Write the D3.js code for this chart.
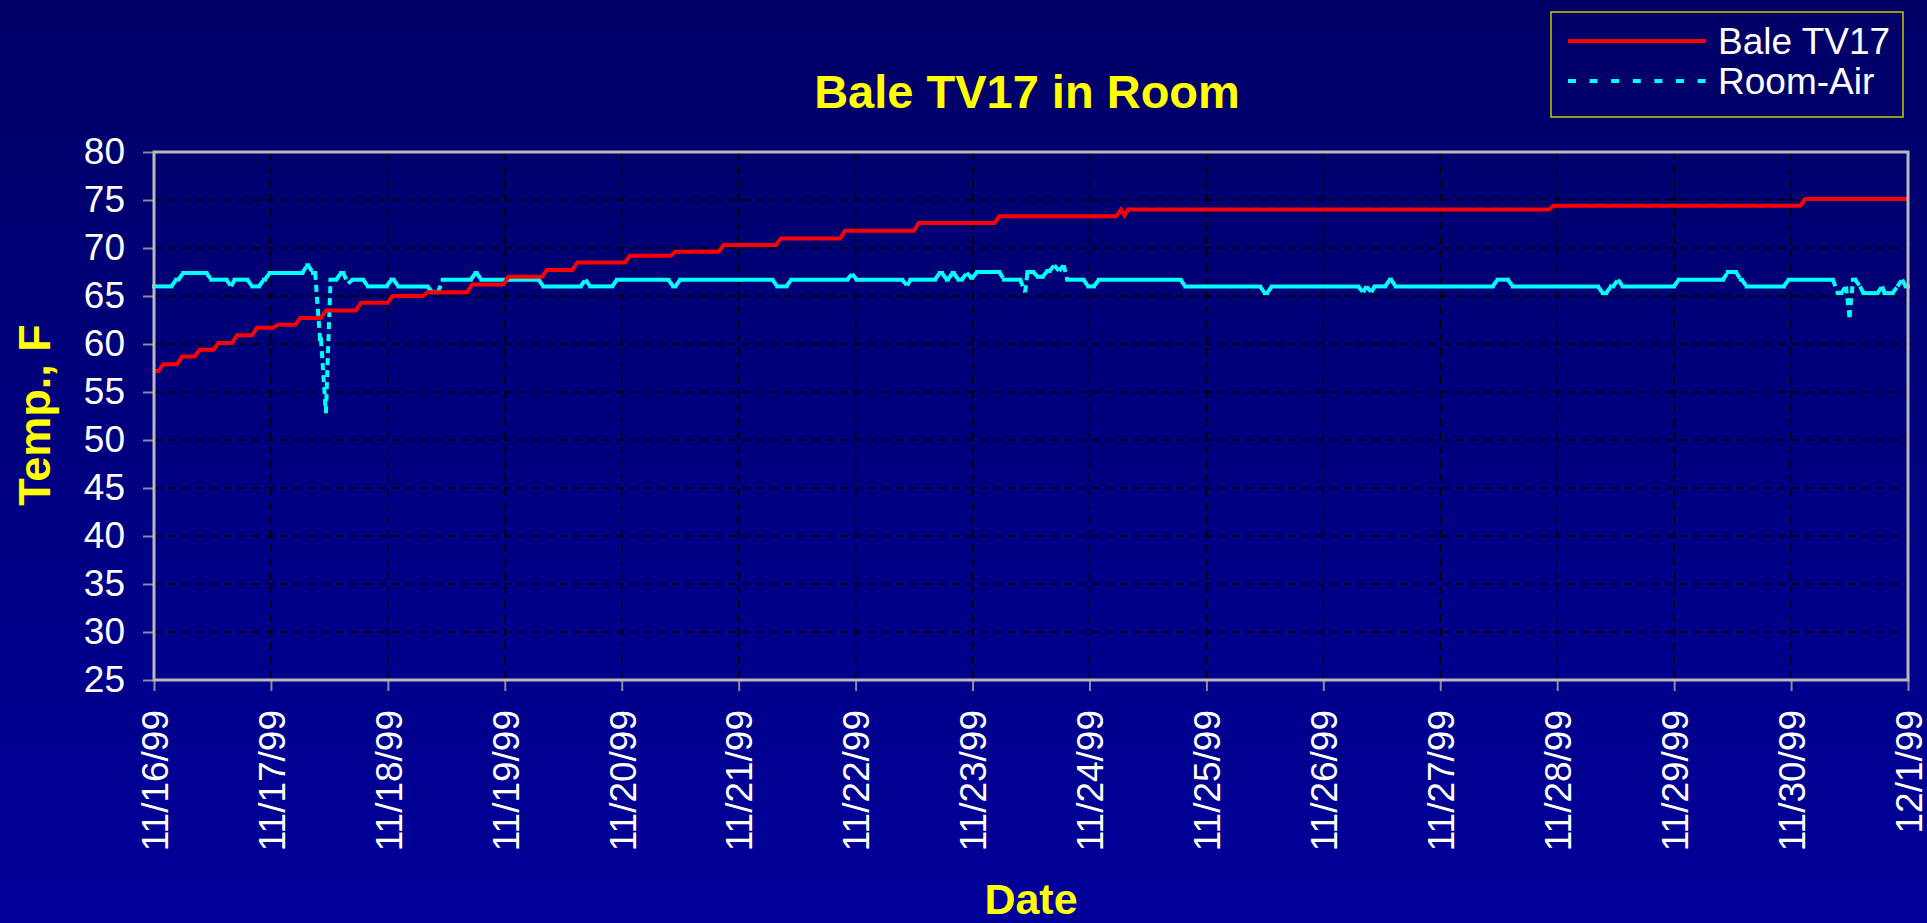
<!DOCTYPE html>
<html>
<head>
<meta charset="utf-8">
<script src="https://cdn.jsdelivr.net/npm/d3@7"></script>
<style>
body{margin:0;overflow:hidden;background:#000066;}
text{font-family:'Liberation Sans',Arial,sans-serif;}
</style>
</head>
<body>
<div id="canvas" class="canvas"></div>
<script>
//data: [day since 11/16/99, temp F]
var dateLabels = ['11/16/99','11/17/99','11/18/99','11/19/99','11/20/99','11/21/99','11/22/99','11/23/99',
    '11/24/99','11/25/99','11/26/99','11/27/99','11/28/99','11/29/99','11/30/99','12/1/99'];
var tempTicks = [25,30,35,40,45,50,55,60,65,70,75,80];
var seriesNames = ['Bale TV17','Room-Air'];

var baleTV17 = [[0,57.2],[0.08,57.9],[0.24,58.7],[0.39,59.4],[0.55,60.1],[0.71,60.9],[0.88,61.7],[1.06,62.0],
    [1.25,62.7],[1.47,63.5],[1.77,64.3],[2.04,65.0],[2.34,65.4],[2.72,66.2],[3.03,67.0],[3.36,67.7],[3.62,68.5],
    [4.07,69.2],[4.46,69.6],[4.87,70.3],[5.36,71.0],[5.91,71.8],[6.54,72.6],[7.23,73.3],[8.27,74.0],[8.30,73.4],
    [8.33,74.0],[11.97,74.4],[14.12,75.1],[15,75.1]];

var roomAir = [[0,66.0],[0.19,66.7],[0.25,67.4],[0.49,66.7],[0.66,66.0],[0.69,66.7],[0.84,66.0],[0.94,66.7],
    [0.99,67.4],[1.31,68.2],[1.36,67.4],[1.42,60.5],[1.47,52.8],[1.51,66.7],[1.60,67.4],[1.66,66.3],[1.70,66.7],
    [1.83,66.0],[2.03,66.7],[2.09,66.0],[2.38,65.4],[2.47,66.7],[2.75,67.4],[2.80,66.7],[3.33,66.0],[3.69,66.7],
    [3.73,66.0],[3.96,66.7],[4.44,66.0],[4.50,66.7],[5.33,66.0],[5.45,66.7],[5.97,67.3],[6.01,66.7],[6.44,66.1],
    [6.47,66.7],[6.72,67.4],[6.78,66.7],[6.83,67.4],[6.88,66.7],[6.95,67.4],[6.99,66.9],[7.04,67.5],[7.27,66.7],
    [7.45,65.4],[7.47,67.5],[7.56,67.0],[7.64,67.6],[7.70,68.2],[7.74,67.6],[7.78,68.2],[7.81,66.7],[7.99,66.0],
    [8.08,66.7],[8.82,66.0],[9.50,65.3],[9.56,66.0],[10.34,65.4],[10.37,66.0],[10.41,65.4],[10.44,66.0],
    [10.57,66.7],[10.62,66.0],[11.49,66.7],[11.62,66.0],[12.39,65.3],[12.46,66.0],[12.52,66.7],[12.56,66.0],
    [13.04,66.7],[13.46,67.5],[13.57,66.7],[13.62,66.0],[13.98,66.7],[14.40,65.3],[14.47,66.0],[14.50,62.8],
    [14.53,66.7],[14.59,66.0],[14.62,65.3],[14.78,66.0],[14.80,65.3],[14.91,66.0],[14.95,66.7],[14.98,66.0],
    [15,66.0]];

var m = {t:152,r:19,b:243,l:154};
var outerWidth = 1927,
    outerHeight = 923;
var w = outerWidth - m.l - m.r,
    h = outerHeight - m.t - m.b;
var hour = 1/24;

var svg = d3.select('.canvas')
    .append('svg')
    .attr('width',outerWidth)
    .attr('height',outerHeight);

var grad = svg.append('defs').append('linearGradient')
    .attr('id','bg').attr('x1',0).attr('y1',0).attr('x2',0).attr('y2',1);
grad.append('stop').attr('offset','0%').attr('stop-color','#000066');
grad.append('stop').attr('offset','100%').attr('stop-color','#00009a');
svg.append('rect').attr('width',outerWidth).attr('height',outerHeight).attr('fill','url(#bg)');

var plot = svg.append('g')
    .attr('transform','translate(' + m.l + ',' + m.t + ')');

var scaleX = d3.scaleLinear()
    .domain([0, dateLabels.length-1])
    .range([0,w]);
var scaleY = d3.scaleLinear()
    .domain([d3.min(tempTicks), d3.max(tempTicks)])
    .range([h,0]);

//grid
plot.append('g').selectAll('line')
    .data(tempTicks.slice(1,-1))
    .enter().append('line')
    .attr('x1',0).attr('x2',w)
    .attr('y1',function(d){return scaleY(d)})
    .attr('y2',function(d){return scaleY(d)})
    .attr('stroke','#000').attr('stroke-width',1.5).attr('stroke-dasharray','8,6');
plot.append('g').selectAll('line')
    .data(dateLabels.slice(1))
    .enter().append('line')
    .attr('x1',function(d,i){return scaleX(i+1)})
    .attr('x2',function(d,i){return scaleX(i+1)})
    .attr('y1',0).attr('y2',h)
    .attr('stroke','#000').attr('stroke-width',1.5).attr('stroke-dasharray','8,6');

//step segments: flat run, then a one-hour change
function segments(rows){
  var out = [];
  for(var i=0;i<rows.length-1;i++){
    var a = rows[i], b = rows[i+1];
    var t0 = Math.max(a[0], b[0]-hour);
    if(t0 > a[0]) out.push({type:'flat',p:[[a[0],a[1]],[t0,a[1]]]});
    if(a[1] != b[1]) out.push({type:'rise',p:[[t0,a[1]],[b[0],b[1]]]});
    else out.push({type:'flat',p:[[t0,a[1]],[b[0],b[1]]]});
  }
  return out;
}

var line = d3.line()
    .x(function(d){return scaleX(d[0])})
    .y(function(d){return scaleY(d[1])});

//room air: excel restarts dashes on each segment, so runs look solid
plot.append('g').selectAll('path')
    .data(segments(roomAir))
    .enter().append('path')
    .attr('d',function(d){return line(d.p)})
    .attr('fill','none')
    .attr('stroke','#00ffff')
    .attr('stroke-width',4)
    .attr('stroke-linecap',function(d){return d.type=='flat'?'square':'butt'})
    .attr('stroke-dasharray',function(d){return d.type=='rise'?'7,5':null});

var redPts = [];
segments(baleTV17).forEach(function(s){
  if(redPts.length==0) redPts.push(s.p[0]);
  redPts.push(s.p[1]);
});
plot.append('path')
    .datum(redPts)
    .attr('d',line)
    .attr('fill','none')
    .attr('stroke','#ff0000')
    .attr('stroke-width',4);

//axes
var axisY = d3.axisLeft()
    .scale(scaleY)
    .tickValues(tempTicks)
    .tickSize(11)
    .tickPadding(18);
var axisX = d3.axisBottom()
    .scale(scaleX)
    .tickValues(dateLabels.map(function(d,i){return i}))
    .tickFormat(function(i){return dateLabels[i]})
    .tickSize(11);

var gy = plot.append('g').attr('class','axis axis-y').call(axisY);
var gx = plot.append('g').attr('class','axis axis-x')
    .attr('transform','translate(0,'+h+')')
    .call(axisX);
[gx,gy].forEach(function(g){
  g.select('.domain').remove();
  g.selectAll('.tick line').attr('stroke','#8a8a9a').attr('stroke-width',2);
  g.selectAll('.tick text').attr('fill','#fff').style('font-size','37px')
      .style('font-family',"'Liberation Sans',Arial,sans-serif");
});
gy.selectAll('.tick text').attr('dy','0.3em');
gx.selectAll('.tick text')
    .attr('y',0).attr('x',-30).attr('dy','0.36em')
    .attr('transform','rotate(-90)')
    .style('text-anchor','end');

plot.append('rect')
    .attr('width',w).attr('height',h)
    .attr('fill','none').attr('stroke','#b8b8b8').attr('stroke-width',3);

//titles
svg.append('text')
    .attr('x',1027).attr('y',108)
    .attr('text-anchor','middle')
    .attr('fill','#ffff00').attr('font-weight','bold').attr('font-size',47)
    .text('Bale TV17 in Room');
svg.append('text')
    .attr('transform','translate(50,415) rotate(-90)')
    .attr('text-anchor','middle')
    .attr('fill','#ffff00').attr('font-weight','bold').attr('font-size',45)
    .text('Temp., F');
svg.append('text')
    .attr('x',m.l + w/2).attr('y',914)
    .attr('text-anchor','middle')
    .attr('fill','#ffff00').attr('font-weight','bold').attr('font-size',43)
    .text('Date');

//legend
var legend = svg.append('g').attr('transform','translate(1551,12)');
legend.append('rect')
    .attr('width',352).attr('height',105)
    .attr('fill','none').attr('stroke','#c8c800').attr('stroke-width',1.5);
var items = legend.selectAll('.item')
    .data(seriesNames)
    .enter().append('g')
    .attr('class','item')
    .attr('transform',function(d,i){return 'translate(0,' + (29 + i*40) + ')'});
items.append('line')
    .attr('x1',17).attr('x2',155)
    .attr('stroke',function(d,i){return i==0?'#ff0000':'#00ffff'})
    .attr('stroke-width',4)
    .attr('stroke-dasharray',function(d,i){return i==0?null:'8,13.6'});
items.append('text')
    .attr('x',167).attr('y',13)
    .attr('fill','#fff').attr('font-size',37)
    .text(function(d){return d});
</script>
</body>
</html>
